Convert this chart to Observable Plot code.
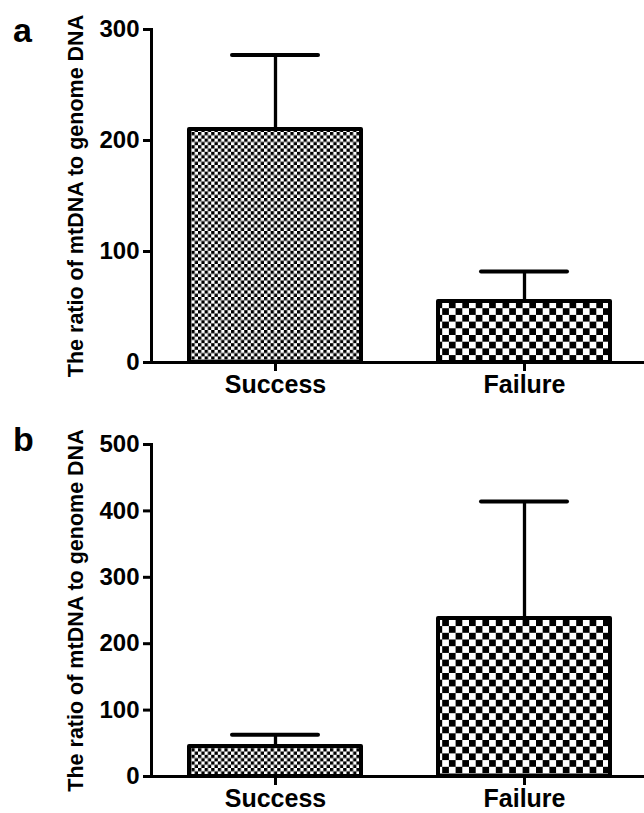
<!DOCTYPE html>
<html>
<head>
<meta charset="utf-8">
<script src="https://cdn.jsdelivr.net/npm/d3@7"></script>
<script src="https://cdn.jsdelivr.net/npm/@observablehq/plot@0.6"></script>
<style>
  body { margin: 0; background: #fff; }
  #wrap { position: relative; width: 644px; }
  .panel { position: relative; }
  .letter { position: absolute; left: 13px; font-family: "Liberation Sans", Arial, sans-serif; font-weight: bold; font-size: 34px; line-height: 1; }
  svg { display: block; }
</style>
</head>
<body>
<div id="wrap">
  <div class="panel" id="pa"><div class="letter" style="top:13px">a</div></div>
  <div class="panel" id="pb"><div class="letter" style="top:17px">b</div></div>
</div>
<script>
const categories = ["Success", "Failure"];
// Panel a: mean and upper error (SD)
const meansA = [210, 55];
const errA = [67, 27];
const yTicksA = [0, 100, 200, 300];
// Panel b
const meansB = [45, 238];
const errB = [18, 176];
const yTicksB = [0, 100, 200, 300, 400, 500];
const yLabel = "The ratio of mtDNA to genome DNA";
const patternSizes = {Success: 3.3, Failure: 6.7};

function panel(id, means, errs, ticks, yMax, opts) {
  const data = categories.map((c, i) => ({cat: c, mean: means[i], top: means[i] + errs[i]}));
  const pid = c => `${id}-${c}`;
  const chart = Plot.plot({
    width: 644,
    height: opts.height,
    marginLeft: 151,
    marginRight: 0,
    marginTop: opts.marginTop,
    marginBottom: opts.marginBottom,
    style: {fontFamily: "'Liberation Sans', Arial, sans-serif", fontWeight: "bold", background: "white", color: "black", overflow: "visible"},
    x: {domain: categories, paddingInner: 0.311, paddingOuter: 0.145, align: 0.52},
    y: {domain: [0, yMax]},
    marks: [
      Plot.axisY({ticks: ticks, tickSize: 8, tickPadding: 4, strokeWidth: 3, fontSize: 24, fontWeight: "bold",
        label: yLabel, labelAnchor: "center", labelOffset: 84, labelArrow: "none"}),
      Plot.axisX({tickSize: 9, tickPadding: 4, strokeWidth: 3, fontSize: 25, fontWeight: "bold", label: null}),
      ...categories.map(c => Plot.barY(data.filter(d => d.cat === c), {
        x: "cat", y: "mean", fill: `url(#${pid(c)})`, stroke: "black", strokeWidth: 4, strokeLinejoin: "round"
      })),
      Plot.ruleX(data, {x: "cat", y1: "mean", y2: "top", stroke: "black", strokeWidth: 3.3}),
      Plot.tickY(data, {x: "cat", y: "top", stroke: "black", strokeWidth: 4, strokeLinecap: "round", insetLeft: 43, insetRight: 43}),
      Plot.ruleY([0], {stroke: "black", strokeWidth: 3}),
      Plot.frame({anchor: "left", stroke: "black", strokeWidth: 3})
    ]
  });
  const svg = d3.select(chart);
  const defs = svg.insert("defs", ":first-child");
  categories.forEach(c => {
    const s = patternSizes[c];
    const p = defs.append("pattern").attr("id", pid(c)).attr("patternUnits", "userSpaceOnUse")
      .attr("width", 2 * s).attr("height", 2 * s);
    p.append("rect").attr("width", 2 * s).attr("height", 2 * s).attr("fill", "white");
    p.append("rect").attr("width", s).attr("height", s).attr("fill", "black");
    p.append("rect").attr("x", s).attr("y", s).attr("width", s).attr("height", s).attr("fill", "black");
  });
  svg.selectAll("text").style("font-weight", "bold");
  svg.selectAll('g[aria-label="y-axis label"] text').style("font-size", "21.5px");
  document.getElementById(id).appendChild(chart);
}

panel("pa", meansA, errA, yTicksA, 300, {height: 405, marginTop: 29, marginBottom: 43});
panel("pb", meansB, errB, yTicksB, 500, {height: 408, marginTop: 39, marginBottom: 37});
</script>
</body>
</html>
